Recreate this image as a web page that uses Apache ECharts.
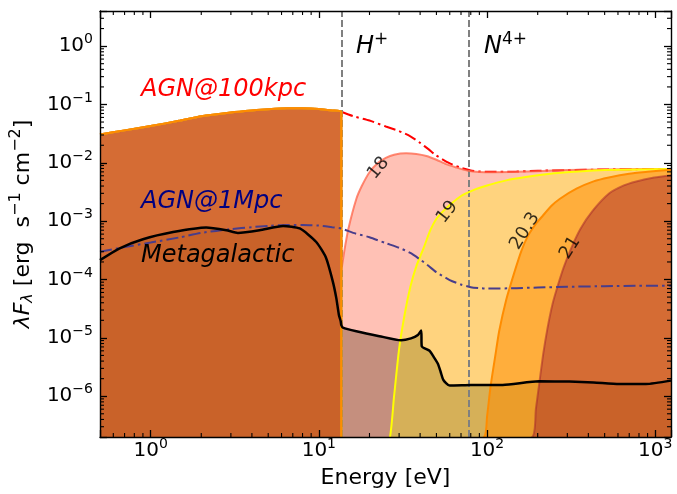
<!DOCTYPE html>
<html>
<head>
<meta charset="utf-8">
<script src="https://cdn.jsdelivr.net/npm/echarts@6/dist/echarts.min.js"></script>
<style>
  html, body { margin: 0; padding: 0; background: #ffffff; }
  #chart { width: 677px; height: 494px; }
</style>
</head>
<body>
<div id="chart"></div>
<script>
// ---- axis ranges (log-log) ----
const X_MIN = 0.5, X_MAX = 1240;      // eV
const Y_MIN = 2e-7, Y_MAX = 4;        // erg s^-1 cm^-2

// ---- ionisation edges (eV) ----
const EDGE_H = 13.6;
const EDGE_N4 = 77.5;

// ---- AGN spectrum at 100 kpc: part below the H edge (filled) ----
const agnLowE = [0.5, 0.7, 1, 1.5, 2, 3, 4, 5, 6.5, 8, 10, 12, 13.6];
const agnLowF = [0.0307, 0.036, 0.0426, 0.053, 0.063, 0.073, 0.079, 0.083, 0.086, 0.086, 0.084, 0.079, 0.075];

// ---- AGN spectrum at 100 kpc above the H edge (dash-dot) ----
const agnHighE = [13.6, 16, 20, 25, 30, 35, 40, 45, 50, 60, 70, 80, 90, 100, 150, 200, 300, 500, 800, 1240];
const agnHighF = [0.075, 0.063, 0.053, 0.042, 0.035, 0.0285, 0.022, 0.017, 0.0133, 0.0098, 0.0082, 0.0074, 0.0071, 0.0070, 0.0071, 0.0073, 0.0075, 0.0077, 0.0078, 0.0078];

// ---- AGN spectrum at 1 Mpc ----
const agn1MpcE = [0.5, 0.7, 1, 1.5, 2, 3, 4, 5, 6.5, 8, 10, 12, 13.6, 16, 20, 25, 30, 35, 40, 45, 50, 60, 70, 80, 90, 100, 150, 200, 300, 500, 800, 1240];
const agn1MpcF = [3.0e-4, 3.6e-4, 4.3e-4, 5.3e-4, 6.3e-4, 7.3e-4, 7.9e-4, 8.3e-4, 8.6e-4, 8.6e-4, 8.4e-4, 7.9e-4, 7.5e-4, 6.3e-4, 5.3e-4, 4.2e-4, 3.5e-4, 2.85e-4, 2.2e-4, 1.7e-4, 1.33e-4, 9.8e-5, 8.2e-5, 7.4e-5, 7.1e-5, 7.0e-5, 7.1e-5, 7.3e-5, 7.5e-5, 7.7e-5, 7.8e-5, 7.8e-5];

// ---- metagalactic background ----
const metaE = [0.5, 0.65, 0.9, 1.36, 2.14, 2.82, 3.3, 4.44, 6.13, 7.7, 9.65, 11, 12.1, 12.7, 13.15, 13.5, 13.6, 13.9, 16.7, 22.9, 30.8, 35.3, 38.8, 40.6, 40.9, 45.5, 48, 51, 53, 55, 60, 80, 124, 204, 308, 430, 610, 880, 1240];
const metaF = [2.15e-4, 3.4e-4, 4.9e-4, 6.5e-4, 7.8e-4, 7.0e-4, 6.3e-4, 7.0e-4, 8.3e-4, 7.5e-4, 4.4e-4, 2.4e-4, 9.3e-5, 4.8e-5, 2.5e-5, 1.9e-5, 1.65e-5, 1.5e-5, 1.3e-5, 1.07e-5, 9.1e-6, 9.8e-6, 1.12e-5, 1.34e-5, 7.2e-6, 6.0e-6, 4.8e-6, 3.6e-6, 2.6e-6, 1.9e-6, 1.52e-6, 1.55e-6, 1.56e-6, 1.8e-6, 1.78e-6, 1.72e-6, 1.62e-6, 1.62e-6, 1.85e-6];

// ---- spectra transmitted through log N_H = 18, 19, 20.3, 21 (above the H edge) ----
const cd18E = [13.6, 14.2, 15, 16.7, 18, 20, 22.5, 25, 28, 33, 38, 43.6, 50, 57, 65, 77, 90, 110, 150, 200, 300, 500, 800, 1240];
const cd18F = [1.4e-4, 3.2e-4, 7.5e-4, 2.4e-3, 4.0e-3, 6.9e-3, 1.0e-2, 1.22e-2, 1.38e-2, 1.46e-2, 1.42e-2, 1.31e-2, 1.13e-2, 9.5e-3, 8.4e-3, 7.3e-3, 6.95e-3, 6.9e-3, 7.0e-3, 7.2e-3, 7.5e-3, 7.7e-3, 7.8e-3, 7.8e-3];

const cd19E = [26, 28, 30, 32.5, 35, 38, 42, 46, 50, 55, 60, 70, 85, 100, 130, 170, 250, 350, 500, 800, 1240];
const cd19F = [1.5e-7, 1.0e-6, 6.5e-6, 2.7e-5, 7.5e-5, 1.7e-4, 3.5e-4, 7.0e-4, 1.1e-3, 1.5e-3, 1.9e-3, 2.7e-3, 3.5e-3, 4.1e-3, 5.0e-3, 5.7e-3, 6.6e-3, 7.1e-3, 7.5e-3, 7.7e-3, 7.8e-3];

const cd203E = [96, 100, 105, 112, 118, 130, 145, 160, 175, 195, 215, 240, 270, 340, 430, 530, 700, 900, 1240];
const cd203F = [2e-7, 4.5e-7, 1.5e-6, 5e-6, 1.3e-5, 4.5e-5, 1.3e-4, 3.1e-4, 5.6e-4, 9e-4, 1.25e-3, 1.8e-3, 2.4e-3, 3.6e-3, 4.8e-3, 5.6e-3, 6.5e-3, 7.0e-3, 7.6e-3];

const cd21E = [186, 195, 204, 215, 228, 245, 262, 285, 317, 360, 424, 533, 650, 770, 950, 1240];
const cd21F = [2e-7, 6e-7, 1.6e-6, 5e-6, 1.4e-5, 3.8e-5, 7.5e-5, 1.6e-4, 3.5e-4, 7.5e-4, 1.5e-3, 3.0e-3, 4.1e-3, 4.8e-3, 5.5e-3, 6.1e-3];

// ---- inline column-density labels ----
const contourNames = ['18', '19', '20.3', '21'];
const contourLabelE = [22.6, 58, 168, 312];
const contourLabelF = [8.1e-3, 1.43e-3, 6.8e-4, 3.5e-4];
const contourLabelRot = [50, 52, 58, 58];

// below the plot floor: flux fully absorbed just above the edge
const BELOW = 1e-9;

const FONT = '"DejaVu Sans", sans-serif';
const pairs = (xs, ys) => xs.map((x, i) => [x, ys[i]]);

const lowPart = pairs(agnLowE, agnLowF);
const col18 = lowPart.concat(pairs(cd18E, cd18F));
const col19 = lowPart.concat([[EDGE_H, BELOW]], pairs(cd19E, cd19F));
const col203 = lowPart.concat([[EDGE_H, BELOW]], pairs(cd203E, cd203F));
const col21 = lowPart.concat([[EDGE_H, BELOW]], pairs(cd21E, cd21F));
const meta = pairs(metaE, metaF);

// minor ticks at 2..9 x 10^n inside a range
function minorValues(min, max) {
  const out = [];
  for (let e = Math.floor(Math.log10(min)); e <= Math.ceil(Math.log10(max)); e++) {
    for (let k = 2; k <= 9; k++) {
      const v = k * Math.pow(10, e);
      if (v > min * 1.0001 && v < max * 0.9999) out.push(v);
    }
  }
  return out;
}
const minorTicks = minorValues(X_MIN, X_MAX).map(v => [v, 1, 0])
  .concat(minorValues(Y_MIN, Y_MAX).map(v => [1, v, 1]));

// "10^n" tick labels
function powLabel(v) {
  const e = Math.log10(v);
  const r = Math.round(e);
  if (Math.abs(e - r) > 1e-6) return '';
  return '{b|10}{s|' + (r < 0 ? '\u2212' + (-r) : String(r)) + '}';
}
const tickRich = {
  b: { fontSize: 20, fontFamily: FONT, color: '#000' },
  s: { fontSize: 14, fontFamily: FONT, color: '#000', padding: [0, 0, 13, 0] }
};

// translucent fills, layered one over another
function fillSeries(data, color, opacity, z) {
  return {
    type: 'line', data, symbol: 'none', smooth: 0.2, silent: true, z: z || 2,
    lineStyle: { width: 0 },
    areaStyle: { color, opacity, origin: 'start' }
  };
}
function lineSeries(data, color, width, type, z) {
  return {
    type: 'line', data, symbol: 'none', smooth: 0.2, silent: true, z: z || 5,
    lineStyle: { color, width, type: type || 'solid', cap: 'butt' }
  };
}

const DASHDOT = [12, 4, 2.5, 4];

function baseAxis(extra) {
  return Object.assign({
    type: 'log', logBase: 10, z: 10,
    splitLine: { show: false },
    axisLine: { show: true, onZero: false, lineStyle: { color: '#000', width: 1.4 } },
    axisTick: { show: true, inside: true, length: 7, lineStyle: { color: '#000', width: 1.3 } },
    minorTick: { show: false }
  }, extra);
}

const option = {
  backgroundColor: '#ffffff',
  animation: false,
  grid: { left: 99, top: 11, width: 572, height: 429, containLabel: false },
  xAxis: [
    baseAxis({
      min: X_MIN, max: X_MAX, position: 'bottom',
      axisLabel: { formatter: powLabel, rich: tickRich, margin: 0, showMinLabel: true, showMaxLabel: true },
      name: 'Energy [eV]', nameLocation: 'middle', nameGap: 30, nameMoveOverlap: false,
      nameTextStyle: { fontSize: 22, fontFamily: FONT, color: '#000' }
    }),
    baseAxis({ min: X_MIN, max: X_MAX, position: 'top', axisLabel: { show: false } })
  ],
  yAxis: [
    baseAxis({
      min: Y_MIN, max: Y_MAX, position: 'left',
      axisLabel: { formatter: powLabel, rich: tickRich, margin: 7 },
      name: '{i|\u03bbF}{sub|\u03bb}{n| [erg  s}{sup|\u22121}{n| cm}{sup|\u22122}{n|]}',
      nameLocation: 'middle', nameGap: 59, nameRotate: 90,
      nameTextStyle: {
        color: '#000',
        rich: {
          i: { fontSize: 22, fontFamily: FONT, fontStyle: 'italic', color: '#000' },
          sub: { fontSize: 16, fontFamily: FONT, fontStyle: 'italic', color: '#000', padding: [10, 0, 0, 0] },
          n: { fontSize: 22, fontFamily: FONT, color: '#000' },
          sup: { fontSize: 16, fontFamily: FONT, color: '#000', padding: [0, 0, 14, 0] }
        }
      }
    }),
    baseAxis({ min: Y_MIN, max: Y_MAX, position: 'right', axisLabel: { show: false } })
  ],
  series: [
    // metagalactic background, shaded underneath everything
    fillSeries(meta, 'rgb(158,172,163)', 1, 1),
    // transmitted spectra, translucent and stacked
    fillSeries(col18, 'rgb(255,99,71)', 0.4),
    fillSeries(col19, 'rgb(255,255,0)', 0.3),
    fillSeries(col203, 'rgb(255,140,0)', 0.52),
    fillSeries(col21, 'rgb(150,10,40)', 0.4),
    // unattenuated AGN at 100 kpc above the edge, with edge markers
    Object.assign(lineSeries(pairs(agnHighE, agnHighF), '#ff0000', 2, DASHDOT, 4), {
      markLine: {
        silent: true, symbol: 'none', label: { show: false },
        lineStyle: { color: '#808080', width: 2, type: [7, 3] },
        data: [{ xAxis: EDGE_H }, { xAxis: EDGE_N4 }]
      }
    }),
    // edges of the transmitted spectra
    lineSeries(col18, 'rgba(255,99,71,0.75)', 2),
    lineSeries(col19, '#ffff00', 2),
    lineSeries(col21, 'rgba(165,42,42,0.55)', 2),
    lineSeries(col203, '#ff8c00', 2),
    // AGN at 1 Mpc
    lineSeries(pairs(agn1MpcE, agn1MpcF), '#483d8b', 2, DASHDOT, 6),
    // metagalactic background
    lineSeries(meta, '#000000', 2.5, 'solid', 7),
    // inline column-density labels
    {
      type: 'scatter', silent: true, z: 8, symbolSize: 0,
      data: contourNames.map((n, i) => ({
        value: [contourLabelE[i], contourLabelF[i]],
        label: { rotate: contourLabelRot[i], formatter: n }
      })),
      label: { show: true, position: 'inside', fontSize: 18, fontFamily: FONT, color: '#000' }
    },
    // minor ticks on all four sides
    {
      type: 'custom', silent: true, z: 11, clip: false,
      data: minorTicks,
      renderItem: function (params, api) {
        const cs = params.coordSys;
        const p = api.coord([api.value(0), api.value(1)]);
        const L = 4;
        const st = { stroke: '#000', lineWidth: 1.1 };
        if (api.value(2) === 0) {
          return { type: 'group', children: [
            { type: 'line', shape: { x1: p[0], y1: cs.y + cs.height, x2: p[0], y2: cs.y + cs.height - L }, style: st },
            { type: 'line', shape: { x1: p[0], y1: cs.y, x2: p[0], y2: cs.y + L }, style: st }
          ] };
        }
        return { type: 'group', children: [
          { type: 'line', shape: { x1: cs.x, y1: p[1], x2: cs.x + L, y2: p[1] }, style: st },
          { type: 'line', shape: { x1: cs.x + cs.width, y1: p[1], x2: cs.x + cs.width - L, y2: p[1] }, style: st }
        ] };
      }
    }
  ],
  graphic: [
    { type: 'text', z: 20, x: 141, y: 90, style: { text: 'AGN@100kpc', fontSize: 24, fontStyle: 'italic', fontFamily: FONT, fill: '#ff0000', verticalAlign: 'middle' } },
    { type: 'text', z: 20, x: 141, y: 202, style: { text: 'AGN@1Mpc', fontSize: 24, fontStyle: 'italic', fontFamily: FONT, fill: '#000080', verticalAlign: 'middle' } },
    { type: 'text', z: 20, x: 141, y: 256, style: { text: 'Metagalactic', fontSize: 24, fontStyle: 'italic', fontFamily: FONT, fill: '#000000', verticalAlign: 'middle' } },
    { type: 'text', z: 20, x: 356, y: 47, style: {
        text: '{i|H}{s|+}', verticalAlign: 'middle',
        rich: {
          i: { fontSize: 24, fontStyle: 'italic', fontFamily: FONT, fill: '#000' },
          s: { fontSize: 17, fontFamily: FONT, fill: '#000', padding: [0, 0, 14, 0] }
        } } },
    { type: 'text', z: 20, x: 484, y: 47, style: {
        text: '{i|N}{s|4+}', verticalAlign: 'middle',
        rich: {
          i: { fontSize: 24, fontStyle: 'italic', fontFamily: FONT, fill: '#000' },
          s: { fontSize: 17, fontFamily: FONT, fill: '#000', padding: [0, 0, 14, 0] }
        } } }
  ]
};

const chart = echarts.init(document.getElementById('chart'), null, { renderer: 'canvas' });
chart.setOption(option);
</script>
</body>
</html>
